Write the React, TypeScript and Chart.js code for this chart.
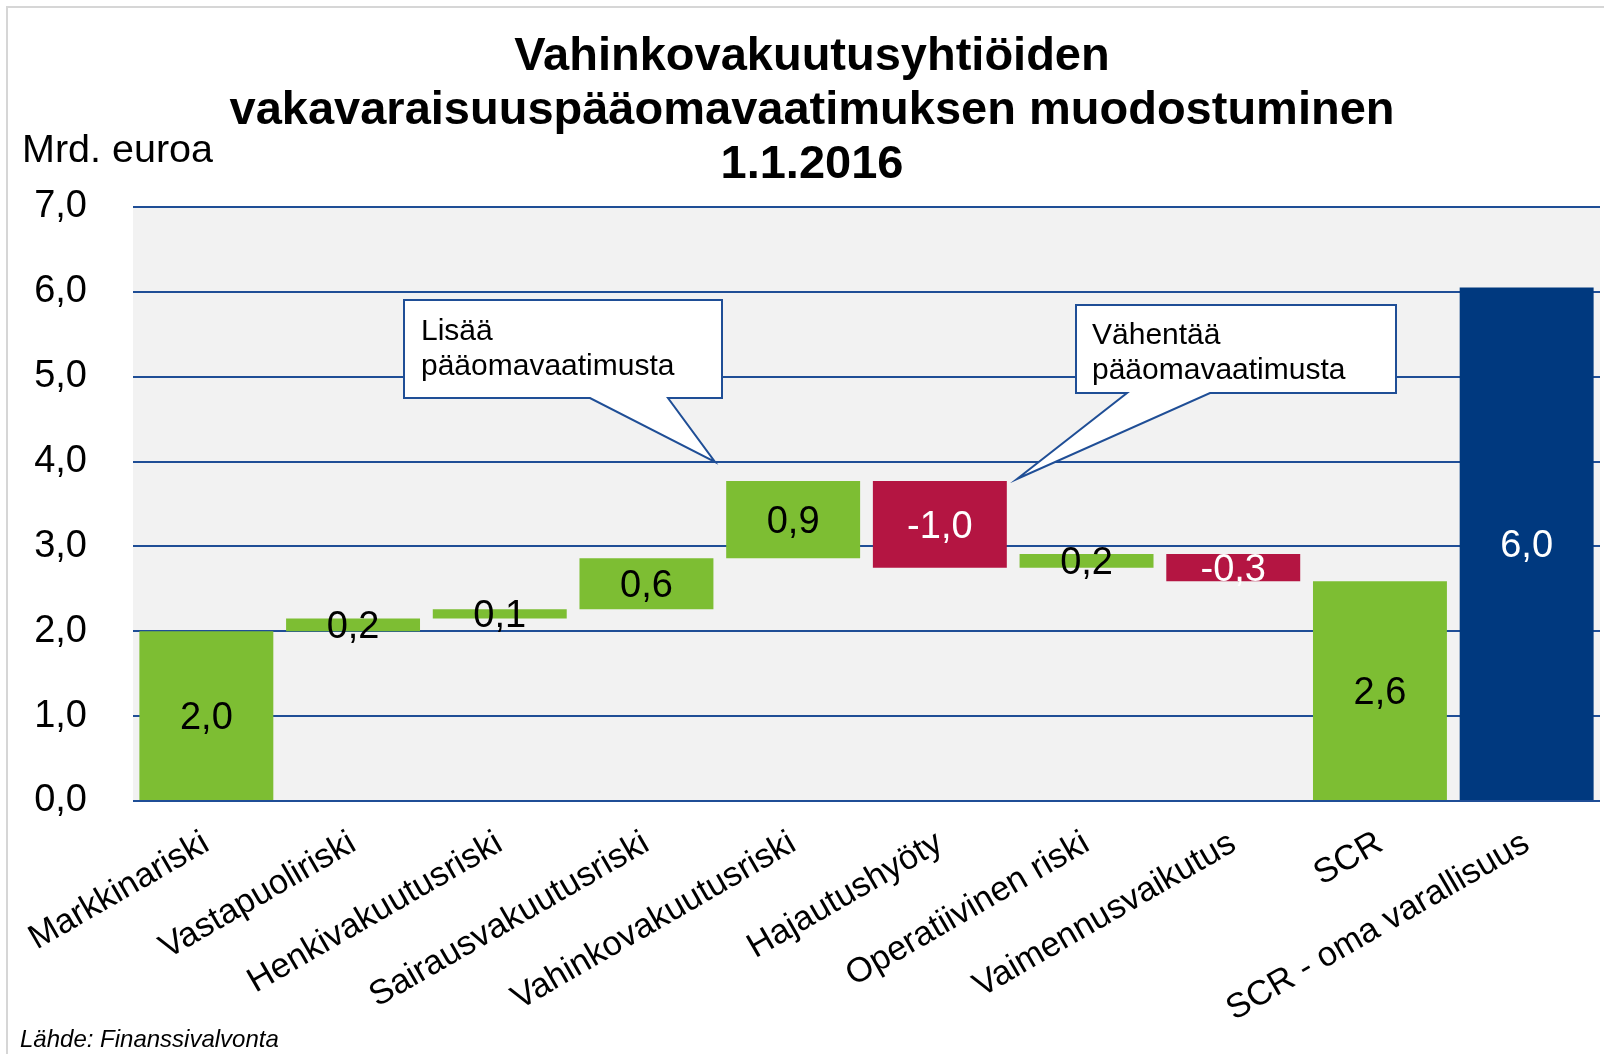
import React, { useEffect, useRef } from 'react';
import { Chart, registerables } from 'chart.js';

Chart.register(...registerables);

// ---------- data ----------
const categories = [
  'Markkinariski',
  'Vastapuoliriski',
  'Henkivakuutusriski',
  'Sairausvakuutusriski',
  'Vahinkovakuutusriski',
  'Hajautushyöty',
  'Operatiivinen riski',
  'Vaimennusvaikutus',
  'SCR',
  'SCR - oma varallisuus',
];
const barStart = [0, 2.0, 2.15, 2.26, 2.86, 3.77, 2.75, 2.91, 0, 0];
const barEnd = [2.0, 2.15, 2.26, 2.86, 3.77, 2.75, 2.91, 2.59, 2.59, 6.05];
const valueLabels = ['2,0', '0,2', '0,1', '0,6', '0,9', '-1,0', '0,2', '-0,3', '2,6', '6,0'];
const barKinds = ['inc', 'inc', 'inc', 'inc', 'inc', 'dec', 'inc', 'dec', 'total', 'capital'];
const yMin = 0;
const yMax = 7;
const yStep = 1;

const titleLines = ['Vahinkovakuutusyhtiöiden', 'vakavaraisuuspääomavaatimuksen muodostuminen', '1.1.2016'];
const unitLabel = 'Mrd. euroa';
const sourceText = 'Lähde: Finanssivalvonta';
const calloutUpText = ['Lisää', 'pääomavaatimusta'];
const calloutDownText = ['Vähentää', 'pääomavaatimusta'];

// ---------- styles ----------
const FONT = "'Liberation Sans', Arial, Helvetica, sans-serif";
const KIND_COLOR: Record<string, string> = {
  inc: '#7DBE33',
  total: '#7DBE33',
  dec: '#B41542',
  capital: '#00397F',
};
const KIND_LABEL_COLOR: Record<string, string> = {
  inc: '#000000',
  total: '#000000',
  dec: '#FFFFFF',
  capital: '#FFFFFF',
};
const GRID_COLOR = '#1F4E96';
const PLOT_BG = '#F2F2F2';

function drawCallout(
  ctx: CanvasRenderingContext2D,
  box: { l: number; t: number; r: number; b: number },
  base: [number, number],
  tip: [number, number],
  lines: string[],
  textX: number,
  baselines: number[]
) {
  ctx.save();
  ctx.beginPath();
  ctx.moveTo(box.l, box.t);
  ctx.lineTo(box.r, box.t);
  ctx.lineTo(box.r, box.b);
  ctx.lineTo(base[1], box.b);
  ctx.lineTo(tip[0], tip[1]);
  ctx.lineTo(base[0], box.b);
  ctx.lineTo(box.l, box.b);
  ctx.closePath();
  ctx.fillStyle = '#FFFFFF';
  ctx.fill();
  ctx.lineWidth = 2;
  ctx.strokeStyle = GRID_COLOR;
  ctx.lineJoin = 'miter';
  ctx.stroke();
  ctx.fillStyle = '#000000';
  ctx.font = `30px ${FONT}`;
  ctx.textAlign = 'left';
  ctx.textBaseline = 'alphabetic';
  lines.forEach((ln, i) => ctx.fillText(ln, textX, baselines[i]));
  ctx.restore();
}

const decorPlugin = {
  id: 'decor',
  beforeDraw(chart: any) {
    const { ctx, chartArea } = chart;
    ctx.save();
    ctx.fillStyle = '#FFFFFF';
    ctx.fillRect(0, 0, chart.width, chart.height);
    ctx.fillStyle = PLOT_BG;
    ctx.fillRect(chartArea.left, chartArea.top, chartArea.right - chartArea.left, chartArea.bottom - chartArea.top);
    ctx.restore();
  },
  afterDraw(chart: any) {
    const { ctx } = chart;
    ctx.save();
    // frame
    ctx.fillStyle = '#D6D6D6';
    ctx.fillRect(6, 6, 2, chart.height - 6);
    ctx.fillRect(6, 6, chart.width - 6, 2);

    // title
    ctx.fillStyle = '#000000';
    ctx.font = `bold 47px ${FONT}`;
    ctx.textAlign = 'center';
    ctx.textBaseline = 'alphabetic';
    const titleBaselines = [70, 124, 178];
    titleLines.forEach((ln, i) => ctx.fillText(ln, 812, titleBaselines[i]));

    // unit label
    ctx.font = `39.5px ${FONT}`;
    ctx.textAlign = 'left';
    ctx.fillText(unitLabel, 22, 162);

    // source
    ctx.font = `italic 24px ${FONT}`;
    ctx.fillText(sourceText, 20, 1047);

    // value labels
    const meta = chart.getDatasetMeta(0);
    ctx.font = `38px ${FONT}`;
    ctx.textAlign = 'center';
    ctx.textBaseline = 'middle';
    meta.data.forEach((el: any, i: number) => {
      const yc = (el.y + el.base) / 2 + 3;
      ctx.fillStyle = KIND_LABEL_COLOR[barKinds[i]];
      ctx.fillText(valueLabels[i], el.x, yc);
    });
    ctx.restore();

    // callouts
    drawCallout(ctx, { l: 404, t: 300, r: 722, b: 398 }, [590, 668], [715, 462], calloutUpText, 421, [340, 375]);
    drawCallout(ctx, { l: 1076, t: 305, r: 1396, b: 393 }, [1127, 1210], [1017, 479], calloutDownText, 1092, [344, 379]);
  },
};

export default function App() {
  const canvasRef = useRef<HTMLCanvasElement | null>(null);

  useEffect(() => {
    const canvas = canvasRef.current;
    if (!canvas) return;
    Chart.defaults.font.family = FONT;
    const chart = new Chart(canvas, {
      type: 'bar',
      data: {
        labels: categories,
        datasets: [
          {
            data: categories.map((_, i) => [barStart[i], barEnd[i]]) as any,
            backgroundColor: barKinds.map((k) => KIND_COLOR[k]),
            borderWidth: 0,
            categoryPercentage: 1,
            barPercentage: 0.913,
          },
        ],
      },
      options: {
        responsive: false,
        animation: false,
        devicePixelRatio: 1,
        layout: { padding: { top: 207, right: 4, left: 0, bottom: 0 } },
        plugins: {
          legend: { display: false },
          title: { display: false },
          tooltip: { enabled: false },
        },
        scales: {
          x: {
            grid: { display: false, drawTicks: false },
            border: { display: false },
            ticks: {
              autoSkip: false,
              minRotation: 30,
              maxRotation: 30,
              padding: 22,
              color: '#000000',
              font: { size: 34.5, family: FONT },
            },
            afterFit(scale: any) {
              scale.height = 253;
              scale.paddingLeft = 0;
              scale.paddingRight = 0;
            },
          },
          y: {
            min: yMin,
            max: yMax,
            grid: { color: GRID_COLOR, lineWidth: 2, drawTicks: false },
            border: { display: false },
            ticks: {
              stepSize: yStep,
              padding: 46,
              color: '#000000',
              font: { size: 38, family: FONT },
              callback: (v: any) => Number(v).toFixed(1).replace('.', ','),
            },
            afterFit(scale: any) {
              scale.width = 133;
            },
          },
        },
      },
      plugins: [decorPlugin],
    });
    return () => chart.destroy();
  }, []);

  return (
    <div style={{ position: 'absolute', left: 0, top: 0, width: 1604, height: 1054, background: '#fff' }}>
      <canvas ref={canvasRef} width={1604} height={1054} style={{ width: 1604, height: 1054, display: 'block' }} />
    </div>
  );
}
